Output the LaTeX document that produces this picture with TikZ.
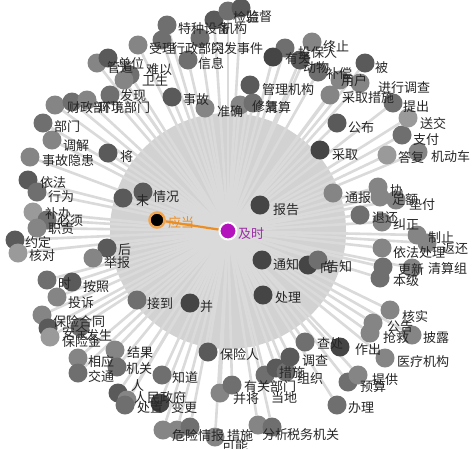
\documentclass[tikz,border=0pt]{standalone}
\usepackage{fontspec}
\newfontfamily\cjk{Noto Sans CJK SC}
\usetikzlibrary{backgrounds}
\pgfdeclarelayer{fg}
\pgfsetlayers{background,main,fg}
\definecolor{g1}{HTML}{454545}
\definecolor{g2}{HTML}{5A5A5A}
\definecolor{g3}{HTML}{6F6F6F}
\definecolor{g4}{HTML}{858585}
\definecolor{g5}{HTML}{9A9A9A}
\definecolor{edgec}{HTML}{DADADA}
\definecolor{discc}{HTML}{D2D2D2}
\definecolor{orng}{HTML}{EC8E22}
\definecolor{mag}{HTML}{B412BC}
\definecolor{magt}{HTML}{9A2EA6}
\pgfdeclareradialshading{softdisc}{\pgfpoint{0bp}{0bp}}{color(0bp)=(discc); color(33bp)=(discc); color(50bp)=(white)}
\tikzset{
  dot/.style={circle, minimum size=19pt, inner sep=0pt, fill=#1},
  lbl/.style={anchor=west, inner sep=0pt, text=black!85, font=\cjk\fontsize{13}{13}\selectfont},
  edge/.style={draw=edgec, line width=2.6pt},
}
\newcommand\W[7]{\node[dot=#4] (#1) at (#2,#3) {};
  \begin{pgfonlayer}{fg}\node[lbl] (#1l) at (#6,#7) {#5};\end{pgfonlayer}}
\begin{document}
\begin{tikzpicture}[x=1pt,y=-1pt]
\useasboundingbox (0,0) rectangle (473,448);
\W{a1}{167}{25}{g3}{特种设备}{178}{29}
\W{a2}{214}{20}{g2}{机构}{221}{29}
\W{a3}{228}{11}{g3}{检验}{233}{18}
\W{a4}{241}{8}{g2}{监督}{246}{17}
\W{a5}{138}{45}{g4}{受理}{149}{49}
\W{a6}{162}{40}{g3}{行政部门}{172}{49}
\W{a7}{200}{38}{g3}{突发事件}{211}{49}
\W{a8}{188}{60}{g3}{信息}{198}{64}
\W{a9}{97}{63}{g4}{管道}{107}{68}
\W{a10}{108}{58}{g2}{单位}{118}{64}
\W{a11}{130}{75}{g3}{难以}{146}{70}
\W{a12}{124}{80}{g4}{卫生}{142}{80}
\W{a13}{172}{97}{g2}{事故}{183}{100}
\W{a14}{110}{95}{g3}{发现}{120}{96}
\W{a15}{55}{105}{g4}{财政部门}{67}{108}
\W{a16}{72}{102}{g3}{环境部门}{98}{108}
\W{a17}{87}{100}{g4}{}{97}{100}
\W{a18}{43}{123}{g3}{部门}{54}{127}
\W{a19}{52}{140}{g4}{调解}{63}{146}
\W{a20}{30}{157}{g4}{事故隐患}{42}{161}
\W{a21}{108}{153}{g2}{将}{120}{157}
\W{a22}{28}{180}{g2}{依法}{40}{183}
\W{a23}{37}{192}{g3}{行为}{48}{197}
\W{a24}{123}{198}{g2}{未}{136}{201}
\W{a25}{143}{192}{g2}{情况}{153}{197}
\W{a26}{33}{212}{g5}{补办}{45}{214}
\W{a27}{47}{220}{g3}{必须}{57}{221}
\W{a28}{37}{228}{g4}{职责}{48}{229}
\W{a29}{15}{240}{g2}{约定}{25}{243}
\W{a30}{18}{253}{g5}{核对}{29}{256}
\W{a31}{107}{248}{g2}{后}{118}{250}
\W{a32}{93}{258}{g4}{举报}{104}{263}
\W{a33}{47}{280}{g3}{时}{58}{284}
\W{a34}{72}{282}{g2}{按照}{83}{287}
\W{a35}{57}{297}{g4}{投诉}{68}{303}
\W{a36}{137}{300}{g3}{接到}{147}{304}
\W{a37}{190}{303}{g1}{并}{200}{307}
\W{a38}{42}{315}{g4}{保险合同}{53}{322}
\W{a39}{48}{328}{g2}{安全}{62}{332}
\W{a40}{80}{327}{g3}{发生}{86}{336}
\W{a41}{50}{337}{g5}{保险金}{62}{341}
\W{a42}{78}{358}{g4}{相应}{88}{362}
\W{a43}{78}{373}{g3}{交通}{88}{377}
\W{a44}{115}{350}{g4}{结果}{127}{353}
\W{a45}{117}{367}{g3}{机关}{126}{369}
\W{a46}{118}{393}{g2}{人}{131}{386}
\W{a47}{127}{400}{g4}{人民政府}{134}{398}
\W{a48}{125}{405}{g3}{处置}{137}{408}
\W{a49}{160}{403}{g1}{变更}{171}{408}
\W{a50}{162}{375}{g3}{知道}{172}{378}
\W{a51}{163}{430}{g4}{危险}{172}{436}
\W{a52}{177}{430}{g4}{情报}{198}{436}
\W{a53}{190}{427}{g3}{措施}{227}{436}
\W{a54}{215}{437}{g4}{可能}{222}{446}
\W{a55}{258}{425}{g4}{分析}{262}{435}
\W{a56}{272}{427}{g3}{税务机关}{287}{435}
\W{a57}{208}{352}{g2}{保险人}{220}{355}
\W{a58}{220}{393}{g4}{并将}{233}{399}
\W{a59}{232}{385}{g3}{有关部门}{244}{387}
\W{a60}{265}{375}{g3}{当地}{271}{398}
\W{a61}{276}{368}{g2}{措施}{279}{373}
\W{a62}{286}{372}{g3}{组织}{297}{379}
\W{a63}{290}{357}{g2}{调查}{302}{361}
\W{a64}{305}{342}{g3}{查处}{317}{344}
\W{a65}{340}{347}{g1}{作出}{355}{350}
\W{a66}{390}{310}{g4}{核实}{402}{317}
\W{a67}{373}{323}{g4}{公告}{387}{327}
\W{a68}{370}{333}{g4}{抢救}{383}{337}
\W{a69}{412}{335}{g4}{披露}{423}{338}
\W{a70}{385}{358}{g4}{医疗机构}{397}{362}
\W{a71}{348}{382}{g3}{预算}{360}{387}
\W{a72}{358}{375}{g4}{提供}{372}{380}
\W{a73}{337}{405}{g3}{办理}{348}{408}
\W{a74}{263}{295}{g1}{处理}{275}{298}
\W{a75}{262}{260}{g1}{通知}{273}{265}
\W{a76}{308}{265}{g1}{向}{320}{268}
\W{a77}{318}{260}{g3}{告知}{326}{267}
\W{a78}{260}{205}{g1}{报告}{273}{210}
\W{a79}{333}{193}{g4}{通报}{345}{198}
\W{a80}{378}{187}{g4}{协}{390}{191}
\W{a81}{380}{197}{g4}{足额}{392}{200}
\W{a82}{396}{200}{g4}{垫付}{409}{205}
\W{a83}{360}{215}{g3}{退还}{372}{218}
\W{a84}{382}{222}{g4}{纠正}{393}{225}
\W{a85}{417}{235}{g4}{制止}{428}{238}
\W{a86}{427}{243}{g4}{返还}{442}{249}
\W{a87}{382}{248}{g4}{依法处理}{393}{253}
\W{a88}{383}{267}{g3}{更新}{398}{270}
\W{a89}{380}{278}{g3}{本级}{393}{281}
\W{a90}{412}{268}{g4}{清算组}{428}{269}
\W{a91}{320}{150}{g1}{采取}{332}{155}
\W{a92}{387}{155}{g5}{答复}{398}{158}
\W{a93}{418}{152}{g4}{机动车}{431}{157}
\W{a94}{402}{135}{g3}{支付}{413}{140}
\W{a95}{408}{118}{g5}{送交}{420}{124}
\W{a96}{393}{103}{g3}{提出}{403}{107}
\W{a97}{337}{123}{g2}{公布}{348}{128}
\W{a98}{365}{63}{g2}{被}{375}{68}
\W{a99}{360}{83}{g4}{进行调查}{378}{88}
\W{a100}{330}{95}{g4}{采取措施}{342}{98}
\W{a101}{318}{72}{g3}{补偿}{326}{74}
\W{a102}{300}{60}{g2}{动物}{303}{68}
\W{a103}{285}{48}{g3}{投保人}{298}{53}
\W{a104}{273}{57}{g1}{有关}{285}{59}
\W{a105}{312}{42}{g4}{终止}{323}{47}
\W{a106}{340}{80}{g4}{用户}{341}{81}
\W{a107}{250}{85}{g2}{管理机构}{262}{90}
\W{a108}{240}{105}{g4}{修复}{252}{107}
\W{a109}{253}{103}{g3}{清算}{265}{108}
\W{a110}{205}{108}{g4}{准确}{217}{112}
\node[circle, minimum size=17pt, inner sep=0pt, fill=mag, draw=white, line width=2pt] (ji) at (228,231) {};
\node[circle, minimum size=15pt, inner sep=0pt, fill=black, draw=orng!80, line width=2.5pt] (yd) at (157,220) {};
\begin{pgfonlayer}{fg}
\node[lbl, text=magt] (jil) at (238,234) {及时};
\node[lbl, text=orng] (ydl) at (168,223) {应当};
\end{pgfonlayer}
\begin{pgfonlayer}{background}
\fill[white] (0,0) rectangle (473,448);
\shade[shading=softdisc] (ji.center) circle (118);
\foreach \i in {1,...,110} \draw[edge] (ji) -- (a\i);
\draw[draw=orng, line width=2.2pt] (yd) -- (ji);
\end{pgfonlayer}
\end{tikzpicture}
\end{document}
